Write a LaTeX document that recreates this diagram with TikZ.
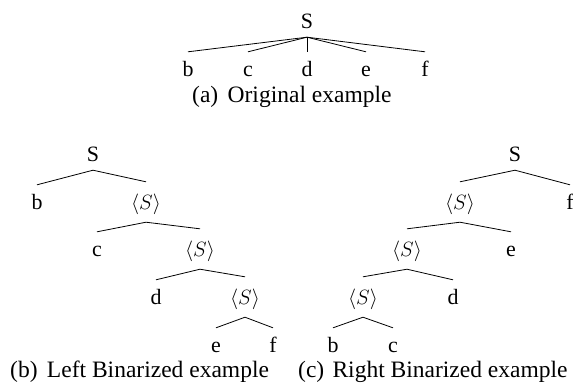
\documentclass[tikz,border=0pt]{standalone}
\usepackage{fontspec}
\setmainfont{Liberation Serif}
\tikzset{
  lf/.style={inner sep=0pt, text height=24bp, text depth=9bp, anchor=base,
             font=\fontsize{22}{26}\selectfont},
  nt/.style={lf, text height=27bp, text depth=13bp},
  captxt/.style={inner sep=0pt, anchor=base west, font=\fontsize{23.6}{28}\selectfont},
  br/.style={line width=0.8bp}
}
\begin{document}
\begin{tikzpicture}[x=1bp,y=-1bp]
\useasboundingbox (0,0) rectangle (573,383);
% (a)
\node[lf] (a0) at (307,28) {S};
\node[lf] (ab) at (188,76) {b};
\node[lf] (ac) at (248,76) {c};
\node[lf] (ad) at (307,76) {d};
\node[lf] (ae) at (366,76) {e};
\node[lf] (af) at (425,76) {f};
\foreach \c in {ab,ac,ad,ae,af} \draw[br] (a0.south) -- (\c.north);
\node[captxt] (capa) at (192,102) {(a)\hspace{0.4em}Original example};
% (b)
\node[lf] (l0) at (93,161) {S};
\node[lf] (lb) at (37,209) {b};
\node[nt] (l1) at (146,209) {$\langle S\rangle$};
\node[lf] (lc) at (97,256) {c};
\node[nt] (l2) at (200,256) {$\langle S\rangle$};
\node[lf] (ld) at (156,304) {d};
\node[nt] (l3) at (245,304) {$\langle S\rangle$};
\node[lf] (le) at (216,352) {e};
\node[lf] (lff) at (273,352) {f};
\draw[br] (l0.south) -- (lb.north);
\draw[br] (l0.south) -- (l1.north);
\draw[br] (l1.south) -- (lc.north);
\draw[br] (l1.south) -- (l2.north);
\draw[br] (l2.south) -- (ld.north);
\draw[br] (l2.south) -- (l3.north);
\draw[br] (l3.south) -- (le.north);
\draw[br] (l3.south) -- (lff.north);
\node[captxt] (capb) at (10,377) {(b)\hspace{0.4em}Left Binarized example};
% (c)
\node[lf] (r0) at (515,161) {S};
\node[nt] (r1) at (460,209) {$\langle S\rangle$};
\node[lf] (rf) at (570,209) {f};
\node[nt] (r2) at (407,256) {$\langle S\rangle$};
\node[lf] (re) at (511,256) {e};
\node[nt] (r3) at (363,304) {$\langle S\rangle$};
\node[lf] (rd) at (453,304) {d};
\node[lf] (rb) at (333,352) {b};
\node[lf] (rc) at (393,352) {c};
\draw[br] (r0.south) -- (r1.north);
\draw[br] (r0.south) -- (rf.north);
\draw[br] (r1.south) -- (r2.north);
\draw[br] (r1.south) -- (re.north);
\draw[br] (r2.south) -- (r3.north);
\draw[br] (r2.south) -- (rd.north);
\draw[br] (r3.south) -- (rb.north);
\draw[br] (r3.south) -- (rc.north);
\node[captxt] (capc) at (298,377) {(c)\hspace{0.35em}Right Binarized example};
\end{tikzpicture}
\end{document}
